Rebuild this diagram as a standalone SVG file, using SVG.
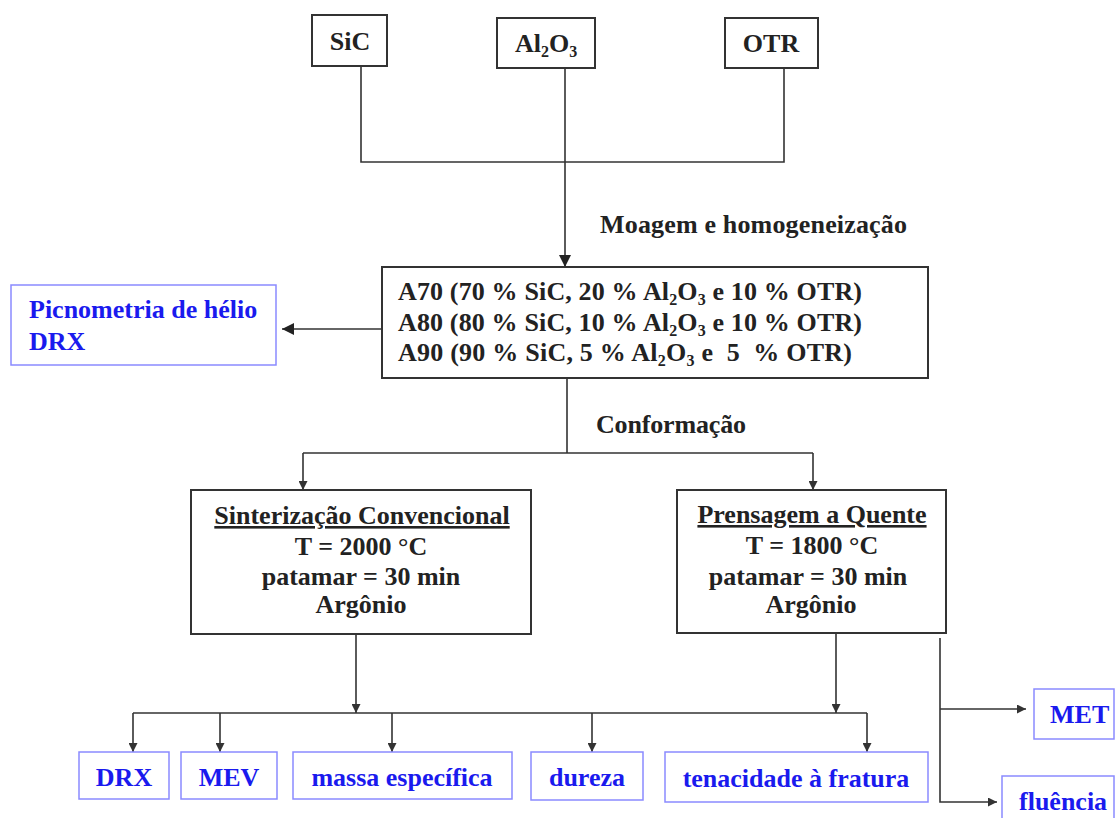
<svg xmlns="http://www.w3.org/2000/svg" width="1115" height="818" viewBox="0 0 1115 818">
<style>
text{font-family:'Liberation Serif','DejaVu Serif',serif}
.t{font-weight:bold;font-size:26px;fill:#222}
.b{fill:#1a1aee}
.box{fill:#fff;stroke:#333;stroke-width:2}
.bb{fill:#fff;stroke:#8a8aff;stroke-width:1.5}
.c{fill:none;stroke:#333;stroke-width:1.6}
.sub{font-size:16px}
</style>
<defs>
<marker id="ah" viewBox="0 0 10 10" refX="10" refY="5" markerWidth="12" markerHeight="12" markerUnits="userSpaceOnUse" orient="auto"><path d="M0,0 L10,5 L0,10 z" fill="#222"/></marker>
<marker id="as" viewBox="0 0 10 10" refX="10" refY="5" markerWidth="9" markerHeight="9" markerUnits="userSpaceOnUse" orient="auto"><path d="M0,0 L10,5 L0,10 z" fill="#333"/></marker>
</defs>
<rect width="1115" height="818" fill="#fff"/>

<g id="connectors">
<path class="c" d="M361,66 V162 H784 V68"/>
<path class="c" d="M565,68 V267" marker-end="url(#ah)"/>
<path class="c" d="M382,329 H282" marker-end="url(#ah)"/>
<path class="c" d="M567,378 V453 M303,453 H813"/>
<path class="c" d="M303,453 V490" marker-end="url(#as)"/>
<path class="c" d="M813,453 V490" marker-end="url(#as)"/>
<path class="c" d="M356,634 V713" marker-end="url(#as)"/>
<path class="c" d="M836,633 V713" marker-end="url(#as)"/>
<path class="c" d="M133,713 H867"/>
<path class="c" d="M133,713 V752" marker-end="url(#as)"/>
<path class="c" d="M220,713 V752" marker-end="url(#as)"/>
<path class="c" d="M392,713 V752" marker-end="url(#as)"/>
<path class="c" d="M592,713 V752" marker-end="url(#as)"/>
<path class="c" d="M867,713 V752" marker-end="url(#as)"/>
<path class="c" d="M940,638 V802 H997" marker-end="url(#as)"/>
<path class="c" d="M940,709 H1026" marker-end="url(#as)"/>
</g>

<g font-family="Liberation Serif, DejaVu Serif, serif">
<g id="sic"><rect class="box" x="312" y="15" width="75" height="51"/><text class="t" x="350" y="50" text-anchor="middle">SiC</text></g>
<g id="al2o3"><rect class="box" x="497" y="18" width="98" height="50"/><text class="t" x="515" y="52">Al<tspan class="sub" dy="5">2</tspan><tspan dy="-5">O</tspan><tspan class="sub" dy="5">3</tspan></text></g>
<g id="otr"><rect class="box" x="725" y="18" width="93" height="50"/><text class="t" x="771" y="52" text-anchor="middle">OTR</text></g>

<g id="label-moagem"><text class="t" x="600" y="233" textLength="307" lengthAdjust="spacing">Moagem e homogeneização</text></g>

<g id="composicoes">
<rect class="box" x="382" y="267" width="546" height="111"/>
<text class="t" x="398" y="300" textLength="464" lengthAdjust="spacing">A70 (70 % SiC, 20 % Al<tspan class="sub" dy="5">2</tspan><tspan dy="-5">O</tspan><tspan class="sub" dy="5">3</tspan><tspan dy="-5"> e 10 % OTR)</tspan></text>
<text class="t" x="398" y="331" textLength="464" lengthAdjust="spacing">A80 (80 % SiC, 10 % Al<tspan class="sub" dy="5">2</tspan><tspan dy="-5">O</tspan><tspan class="sub" dy="5">3</tspan><tspan dy="-5"> e 10 % OTR)</tspan></text>
<text class="t" x="398" y="361" xml:space="preserve" textLength="454" lengthAdjust="spacing">A90 (90 % SiC, 5 % Al<tspan class="sub" dy="5">2</tspan><tspan dy="-5">O</tspan><tspan class="sub" dy="5">3</tspan><tspan dy="-5"> e  5  % OTR)</tspan></text>
</g>

<g id="picnometria">
<rect class="bb" x="11" y="285" width="265" height="80"/>
<text class="t b" x="29" y="318">Picnometria de hélio</text>
<text class="t b" x="29" y="350">DRX</text>
</g>

<g id="label-conformacao"><text class="t" x="596" y="433" textLength="150" lengthAdjust="spacing">Conformação</text></g>

<g id="sinterizacao">
<rect class="box" x="191" y="490" width="340" height="144"/>
<text class="t" x="362" y="524" text-anchor="middle" text-decoration="underline">Sinterização Convencional</text>
<text class="t" x="361" y="555" text-anchor="middle">T = 2000 °C</text>
<text class="t" x="361" y="585" text-anchor="middle">patamar = 30 min</text>
<text class="t" x="361" y="613" text-anchor="middle">Argônio</text>
</g>

<g id="prensagem">
<rect class="box" x="677" y="490" width="269" height="143"/>
<text class="t" x="812" y="523" text-anchor="middle" text-decoration="underline">Prensagem a Quente</text>
<text class="t" x="812" y="554" text-anchor="middle">T = 1800 °C</text>
<text class="t" x="808" y="585" text-anchor="middle">patamar = 30 min</text>
<text class="t" x="811" y="613" text-anchor="middle">Argônio</text>
</g>

<g id="drx"><rect class="bb" x="79" y="752" width="90" height="47"/><text class="t b" x="124" y="786" text-anchor="middle">DRX</text></g>
<g id="mev"><rect class="bb" x="181" y="752" width="96" height="47"/><text class="t b" x="229" y="786" text-anchor="middle">MEV</text></g>
<g id="massa"><rect class="bb" x="293" y="752" width="219" height="47"/><text class="t b" x="402" y="786" text-anchor="middle">massa específica</text></g>
<g id="dureza"><rect class="bb" x="531" y="752" width="112" height="48"/><text class="t b" x="587" y="786" text-anchor="middle">dureza</text></g>
<g id="tenacidade"><rect class="bb" x="665" y="752" width="263" height="50"/><text class="t b" x="796" y="787" text-anchor="middle">tenacidade à fratura</text></g>
<g id="met"><rect class="bb" x="1034" y="689" width="80" height="50"/><text class="t b" x="1050" y="723">MET</text></g>
<g id="fluencia"><rect class="bb" x="1002" y="776" width="112" height="50"/><text class="t b" x="1019" y="810">fluência</text></g>
</g>
</svg>
